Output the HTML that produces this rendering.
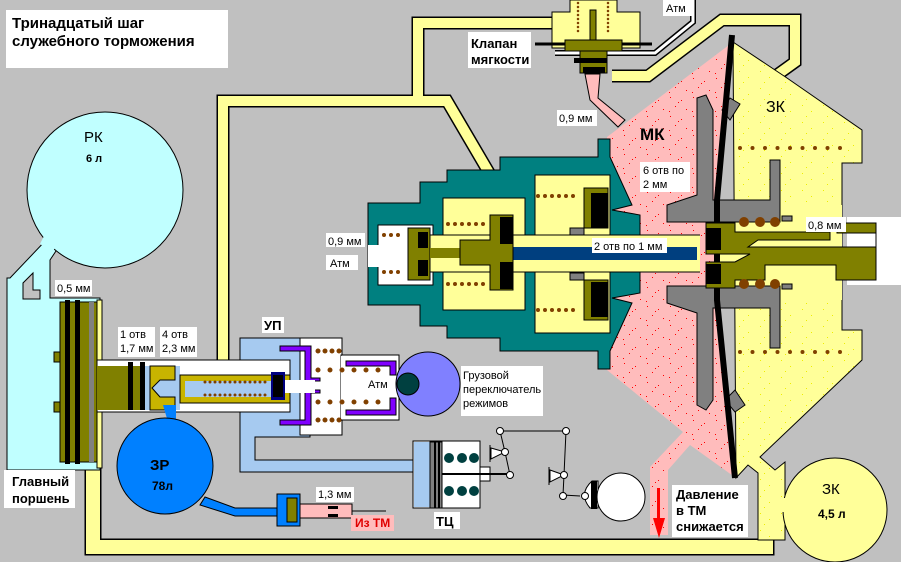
<!DOCTYPE html>
<html><head><meta charset="utf-8"><style>
html,body{margin:0;padding:0;background:#c0c0c0;}
svg{display:block}
text{font-family:"Liberation Sans","DejaVu Sans",sans-serif;}
</style></head><body>
<svg width="901" height="562" viewBox="0 0 901 562" xmlns="http://www.w3.org/2000/svg">
<defs>
<pattern id="spk" width="23" height="19" patternUnits="userSpaceOnUse">
<rect width="23" height="19" fill="#ffbcbc"/>
<rect x="3" y="2" width="1" height="1" fill="#f00"/><rect x="14" y="5" width="1" height="1" fill="#f00"/>
<rect x="8" y="11" width="1" height="1" fill="#f00"/><rect x="19" y="14" width="1" height="1" fill="#f00"/>
<rect x="2" y="16" width="1" height="1" fill="#f00"/><rect x="11" y="7" width="1" height="1" fill="#f00"/>
</pattern>
<pattern id="yspk" width="21" height="17" patternUnits="userSpaceOnUse">
<rect width="21" height="17" fill="#ffff99"/>
<rect x="4" y="3" width="1" height="1" fill="#ee0"/><rect x="13" y="9" width="1" height="1" fill="#ee0"/><rect x="8" y="14" width="1" height="1" fill="#ee0"/>
</pattern>
</defs>
<rect width="901" height="562" fill="#c0c0c0"/>

<!-- title -->
<rect x="6" y="10" width="222" height="58" fill="#fff"/>
<text x="12" y="28" font-size="15" font-weight="bold">Тринадцатый шаг</text>
<text x="12" y="46" font-size="15" font-weight="bold">служебного торможения</text>

<!-- pipes yellow -->
<g fill="none" stroke-linejoin="miter">
<path d="M560 23 L418 23 L418 101 L223 101 L223 360" stroke="#000" stroke-width="13"/>
<path d="M418 101 L447 101 L505 200" stroke="#000" stroke-width="13"/>
<path d="M612 76 L648 76 L722 20 L795 20 L795 62 L770 80" stroke="#000" stroke-width="13"/>
<path d="M93 462 L93 547 L766 547 L766 470" stroke="#000" stroke-width="17"/>
<path d="M560 23 L418 23 L418 101 L223 101 L223 360" stroke="#ffff99" stroke-width="10"/>
<path d="M418 101 L447 101 L505 200" stroke="#ffff99" stroke-width="10"/>
<path d="M612 76 L648 76 L722 20 L795 20 L795 62 L770 80" stroke="#ffff99" stroke-width="10"/>
<path d="M93 462 L93 547 L766 547 L766 470" stroke="#ffff99" stroke-width="14"/>
<path d="M555 53 L655 53 L693 22 L693 0" stroke="#000" stroke-width="6"/>
<path d="M555 53 L655 53 L693 22 L693 0" stroke="#fff" stroke-width="3"/>
</g>
<rect x="663" y="0" width="30" height="16" fill="#fff"/><text x="666" y="12" font-size="11">Атм</text>

<!-- RK -->
<path d="M48 238 L10 278 L7 278 L7 470 L100 470 L100 298 L50 298 L50 260 L58 248 Z" fill="#c0ffff" stroke="#000"/>
<circle cx="105" cy="190" r="78" fill="#c0ffff" stroke="#000"/>
<path d="M46 232 L58 244 L52 252 L40 244 Z" fill="#c0ffff"/>
<path d="M23 299 L23 283 L33 273 L33 290 L40 290 L40 299 Z" fill="#c0c0c0" stroke="#000"/>
<text x="84" y="142" font-size="15">РК</text>
<text x="86" y="162" font-size="11" font-weight="bold">6 л</text>
<rect x="55" y="280" width="37" height="16" fill="#fff"/><text x="57" y="292" font-size="11">0,5 мм</text>

<!-- main piston -->
<rect x="97" y="300" width="5" height="168" fill="#ffff99" stroke="#000"/>
<rect x="60" y="302" width="37" height="160" fill="#808000" stroke="#000"/>
<rect x="65" y="300" width="5" height="164" fill="#000"/><rect x="75" y="300" width="5" height="164" fill="#000"/>
<rect x="89" y="302" width="5" height="160" fill="#808080"/>
<rect x="54" y="352" width="6" height="10" fill="#808000" stroke="#000"/><rect x="54" y="402" width="6" height="10" fill="#808000" stroke="#000"/>
<rect x="4" y="470" width="71" height="38" fill="#fff"/>
<text x="12" y="486" font-size="13" font-weight="bold">Главный</text>
<text x="12" y="503" font-size="13" font-weight="bold">поршень</text>

<!-- rod / channel -->
<rect x="97" y="360" width="200" height="52" fill="#fff" stroke="#000"/>
<rect x="97" y="366" width="50" height="44" fill="#808000"/>
<rect x="128" y="362" width="5" height="48" fill="#000"/><rect x="140" y="362" width="5" height="48" fill="#000"/>
<rect x="145" y="366" width="35" height="44" fill="#a6caf0"/>
<path d="M150 366 L175 366 L175 380 L160 380 L152 388 L160 397 L175 397 L175 410 L150 410 Z" fill="#c8b400" stroke="#000"/>
<rect x="180" y="375" width="110" height="28" fill="#c8b400" stroke="#000"/>
<rect x="185" y="381" width="88" height="16" fill="#a6caf0"/>
<line x1="205" y1="382" x2="268" y2="382" stroke="#804000" stroke-width="3" stroke-dasharray="0 5" stroke-linecap="round"/>
<line x1="205" y1="395" x2="268" y2="395" stroke="#804000" stroke-width="3" stroke-dasharray="0 5" stroke-linecap="round"/>
<rect x="118" y="327" width="37" height="30" fill="#fff"/><text x="120" y="338" font-size="11">1 отв</text><text x="120" y="352" font-size="11">1,7 мм</text>
<rect x="160" y="327" width="37" height="30" fill="#fff"/><text x="162" y="338" font-size="11">4 отв</text><text x="162" y="352" font-size="11">2,3 мм</text>

<!-- ZR -->
<path d="M163 405 L176 405 L176 422 L168 422 Z" fill="#0080ff"/>
<path d="M205 497 L235 508 L280 508 L280 516 L235 516 L200 505 Z" fill="#0080ff" stroke="#000"/>
<circle cx="165" cy="466" r="48" fill="#0080ff" stroke="#000"/>
<text x="150" y="470" font-size="15" font-weight="bold">ЗР</text>
<text x="152" y="490" font-size="12" font-weight="bold">78л</text>
<rect x="277" y="494" width="23" height="32" fill="#0080ff" stroke="#000"/>
<rect x="287" y="498" width="10" height="24" fill="#808000" stroke="#000"/>
<rect x="300" y="504" width="52" height="14" fill="#ffbcbc" stroke="#000"/>
<rect x="328" y="506" width="10" height="3" fill="#000"/><rect x="328" y="514" width="10" height="3" fill="#000"/>
<line x1="352" y1="511" x2="386" y2="511" stroke="#000"/>
<rect x="316" y="487" width="38" height="15" fill="#fff"/><text x="318" y="498" font-size="11">1,3 мм</text>
<rect x="351" y="515" width="43" height="16" fill="#ffbcbc"/><text x="355" y="527" font-size="12" font-weight="bold" fill="#e00000">Из ТМ</text>

<!-- UP -->
<path d="M240 338 L310 338 L310 437 L255 437 L255 460 L413 460 L413 472 L240 472 L240 412 L290 412 L290 360 L240 360 Z" fill="#a6caf0" stroke="#000"/>
<rect x="300" y="338" width="42" height="97" fill="#fff" stroke="#000"/>
<rect x="341" y="355" width="58" height="65" fill="#fff" stroke="#000"/>
<rect x="341" y="356" width="8" height="63" fill="#fff"/>
<path d="M280 346 L311 346 L311 378 L320 378 L320 381 L305 381 L305 351 L280 351 Z" fill="#8000ff" stroke="#000"/>
<path d="M280 425 L311 425 L311 393 L320 393 L320 390 L305 390 L305 420 L280 420 Z" fill="#8000ff" stroke="#000"/>
<path d="M346 361 L396 361 L396 375 L390 375 L390 366 L346 366 Z" fill="#8000ff" stroke="#000"/>
<path d="M346 415 L396 415 L396 398 L390 398 L390 410 L346 410 Z" fill="#8000ff" stroke="#000"/>
<rect x="271" y="372" width="14" height="28" fill="#000080"/><rect x="273" y="375" width="10" height="22" fill="#000"/>
<rect x="285" y="380" width="30" height="13" fill="#fff"/>
<line x1="318" y1="351" x2="340" y2="351" stroke="#804000" stroke-width="5" stroke-dasharray="0 7" stroke-linecap="round"/>
<line x1="318" y1="370" x2="385" y2="370" stroke="#804000" stroke-width="5" stroke-dasharray="0 12" stroke-linecap="round"/>
<line x1="318" y1="402" x2="385" y2="402" stroke="#804000" stroke-width="5" stroke-dasharray="0 12" stroke-linecap="round"/>
<line x1="318" y1="420" x2="340" y2="420" stroke="#804000" stroke-width="5" stroke-dasharray="0 7" stroke-linecap="round"/>
<text x="368" y="388" font-size="11">Атм</text>
<rect x="262" y="317" width="22" height="16" fill="#fff"/><text x="264" y="330" font-size="13" font-weight="bold">УП</text>
<circle cx="428" cy="384" r="32" fill="#8080ff" stroke="#000"/>
<circle cx="408" cy="384" r="11" fill="#004040" stroke="#000"/>
<rect x="461" y="366" width="82" height="50" fill="#fff"/>
<text x="463" y="379" font-size="11">Грузовой</text><text x="463" y="393" font-size="11">переключатель</text><text x="463" y="407" font-size="11">режимов</text>

<!-- TC -->
<rect x="413" y="441" width="67" height="67" fill="#fff" stroke="#000"/>
<rect x="414" y="442" width="17" height="65" fill="#a6caf0"/>
<rect x="430" y="442" width="12" height="66" fill="#808080" stroke="#000"/>
<rect x="434" y="441" width="2" height="67" fill="#000"/><rect x="438" y="441" width="2" height="67" fill="#000"/>
<rect x="480" y="467" width="10" height="14" fill="#fff" stroke="#000"/>
<line x1="442" y1="474" x2="510" y2="474" stroke="#000" stroke-width="2"/>
<g fill="#004040"><circle cx="449" cy="458" r="5"/><circle cx="462" cy="458" r="5"/><circle cx="474" cy="458" r="5"/><circle cx="449" cy="491" r="5"/><circle cx="462" cy="491" r="5"/><circle cx="474" cy="491" r="5"/></g>
<rect x="434" y="512" width="26" height="17" fill="#fff"/><text x="436" y="526" font-size="13" font-weight="bold">ТЦ</text>
<!-- linkage -->
<g stroke="#000" fill="none">
<path d="M500 431 L566 431 L564 475 L563 495 L580 496"/>
<path d="M500 431 L505 452 L510 475"/>
<path d="M491 448 L505 452 L491 459 Z" fill="#fff"/>
<path d="M550 470 L564 475 L550 482 Z" fill="#fff"/>
<line x1="490" y1="445" x2="490" y2="462"/><line x1="549" y1="467" x2="549" y2="485"/>
</g>
<g fill="#fff" stroke="#000"><circle cx="500" cy="431" r="3.5"/><circle cx="566" cy="431" r="3.5"/><circle cx="505" cy="452" r="3.5"/><circle cx="510" cy="475" r="3.5"/><circle cx="564" cy="475" r="3.5"/><circle cx="563" cy="496" r="3.5"/></g>
<path d="M592 481 Q578 494 590 508 L598 508 L598 481 Z" fill="#fff" stroke="#000"/>
<rect x="591" y="481" width="6" height="28" fill="#000"/>
<circle cx="585" cy="496" r="3.5" fill="#fff" stroke="#000"/>
<circle cx="621" cy="497" r="24" fill="#fff" stroke="#000"/>

<!-- ZK -->
<path d="M733 42 L787 78 L862 130 L862 163 L842 163 L842 330 L862 330 L862 360 L760 457 L775 470 L785 462 L785 540 L758 540 L758 473 L748 465 L736 478 Z" fill="url(#yspk)" stroke="#000"/>
<rect x="697" y="205" width="145" height="95" fill="#ffff99"/>
<circle cx="835" cy="510" r="52" fill="#ffff99" stroke="#000"/>
<rect x="775" y="498" width="15" height="14" fill="#ffff99"/>
<text x="822" y="494" font-size="15">ЗК</text>
<text x="818" y="518" font-size="12" font-weight="bold">4,5 л</text>
<text x="766" y="112" font-size="16">ЗК</text>

<!-- MK pink -->
<path d="M607 137 L733 42 L717 200 L717 300 L736 478 L690 445 L668 470 L668 535 L650 535 L650 467 L683 432 L607 370 Z" fill="url(#spk)"/>
<text x="640" y="140" font-size="17" font-weight="bold">МК</text>
<rect x="640" y="162" width="50" height="30" fill="#fff"/>
<text x="643" y="174" font-size="11">6 отв по</text><text x="643" y="188" font-size="11">2 мм</text>
<rect x="672" y="485" width="76" height="52" fill="#fff"/>
<text x="676" y="499" font-size="13" font-weight="bold">Давление</text>
<text x="676" y="515" font-size="13" font-weight="bold">в ТМ</text>
<text x="676" y="531" font-size="13" font-weight="bold">снижается</text>
<path d="M657 488 L660 488 L660 518 L665 518 L659 538 L653 518 L657 518 Z" fill="#f00"/>

<!-- valve (klapan) -->
<path d="M570 0 L617 0 L617 12 L640 12 L640 48 L552 48 L552 12 L570 12 Z" fill="#ffff99" stroke="#000"/>
<line x1="578" y1="3" x2="578" y2="35" stroke="#804000" stroke-width="2.5" stroke-dasharray="0 4" stroke-linecap="round"/>
<line x1="608" y1="3" x2="608" y2="35" stroke="#804000" stroke-width="2.5" stroke-dasharray="0 4" stroke-linecap="round"/>
<rect x="590" y="10" width="6" height="32" fill="#808000" stroke="#000"/>
<line x1="535" y1="44" x2="652" y2="44" stroke="#000" stroke-width="3"/>
<rect x="565" y="40" width="57" height="11" fill="#808000" stroke="#000"/>
<rect x="580" y="51" width="27" height="22" fill="#808000" stroke="#000"/>
<rect x="574" y="58" width="33" height="5" fill="#000"/>
<rect x="583" y="67" width="22" height="6" fill="#000"/>
<path d="M585 74 L600 74 L598 98 L625 120 L618 127 L590 100 Z" fill="#ffbcbc" stroke="#000"/>
<rect x="468" y="32" width="63" height="36" fill="#fff"/>
<text x="471" y="48" font-size="13" font-weight="bold">Клапан</text>
<text x="471" y="64" font-size="13" font-weight="bold">мягкости</text>
<rect x="557" y="110" width="40" height="16" fill="#fff"/><text x="559" y="122" font-size="11">0,9 мм</text>

<!-- diaphragm gray -->
<path d="M697 98 L706 95 L713 110 L713 200 L770 200 L770 160 L780 160 L780 222 L667 222 L667 205 L697 195 Z" fill="#808080" stroke="#000"/>
<path d="M667 286 L780 286 L780 348 L770 348 L770 308 L713 308 L713 400 L706 410 L697 405 L697 313 L667 303 Z" fill="#808080" stroke="#000"/>
<path d="M722 110 L730 98 L740 104 L730 120 Z" fill="#808080" stroke="#000"/>
<path d="M725 400 L735 412 L745 405 L735 390 Z" fill="#808080" stroke="#000"/>
<polyline points="732,35 717,200 717,300 735,478" fill="none" stroke="#000" stroke-width="6"/>

<!-- teal housing -->
<path d="M368 203 L420 203 L420 182 L447 182 L447 170 L500 170 L500 157 L598 157 L598 139 L610 139 L610 157 L632 205 L612 210 L640 215 L640 235 L610 235 L610 272 L640 272 L640 293 L612 298 L632 303 L610 351 L610 369 L598 369 L598 351 L500 351 L500 338 L447 338 L447 326 L420 326 L420 305 L368 305 Z" fill="#008080" stroke="#000"/>
<rect x="378" y="225" width="55" height="60" fill="#fff" stroke="#000"/>
<rect x="368" y="245" width="12" height="22" fill="#fff"/>
<rect x="443" y="198" width="82" height="112" fill="#ffff99" stroke="#000"/>
<rect x="535" y="175" width="75" height="158" fill="#ffff99" stroke="#000"/>
<rect x="430" y="235" width="270" height="37" fill="#ffff99"/>
<rect x="513" y="247" width="184" height="13" fill="#003f7f"/>
<line x1="430" y1="235" x2="700" y2="235" stroke="#000"/><line x1="430" y1="272" x2="700" y2="272" stroke="#000"/>
<rect x="408" y="228" width="22" height="52" fill="#808000" stroke="#000"/>
<rect x="418" y="232" width="10" height="16" fill="#000"/><rect x="418" y="260" width="10" height="16" fill="#000"/>
<rect x="430" y="248" width="30" height="10" fill="#808000"/>
<path d="M460 240 L490 240 L490 215 L513 215 L513 290 L490 290 L490 265 L460 265 Z" fill="#808000" stroke="#000"/>
<rect x="500" y="217" width="13" height="27" fill="#000"/><rect x="500" y="262" width="13" height="27" fill="#000"/>
<rect x="584" y="188" width="24" height="40" fill="#808000" stroke="#000"/><rect x="591" y="193" width="17" height="35" fill="#000"/>
<rect x="584" y="280" width="24" height="40" fill="#808000" stroke="#000"/><rect x="591" y="282" width="17" height="35" fill="#000"/>
<rect x="570" y="228" width="14" height="7" fill="#808080" stroke="#000"/><rect x="570" y="273" width="14" height="7" fill="#808080" stroke="#000"/>
<g stroke="#804000" stroke-width="4" stroke-dasharray="0 7" stroke-linecap="round">
<line x1="384" y1="235" x2="405" y2="235"/><line x1="384" y1="272" x2="405" y2="272"/>
<line x1="448" y1="224" x2="485" y2="224"/><line x1="448" y1="284" x2="485" y2="284"/>
<line x1="538" y1="196" x2="580" y2="196"/><line x1="538" y1="310" x2="580" y2="310"/>
</g>
<rect x="326" y="233" width="39" height="14" fill="#fff"/><text x="328" y="245" font-size="11">0,9 мм</text>
<rect x="326" y="255" width="32" height="15" fill="#fff"/><text x="330" y="267" font-size="11">Атм</text>

<!-- right piston -->
<rect x="847" y="217" width="54" height="68" fill="#fff"/>
<path d="M706 223 L735 223 L735 232 L830 232 L830 240 L758 240 L748 247 L876 247 L876 233 L837 233 L837 223 L876 223 L876 280 L836 280 L836 265 L765 265 L765 280 L735 280 L735 288 L706 288 L706 262 L735 262 L750 254 L735 254 L706 254 Z" fill="#808000" stroke="#000"/>
<rect x="706" y="228" width="15" height="22" fill="#000"/><rect x="706" y="264" width="15" height="20" fill="#000"/>
<g fill="#804000"><circle cx="744" cy="222" r="5"/><circle cx="760" cy="222" r="5"/><circle cx="775" cy="222" r="5"/><circle cx="744" cy="284" r="5"/><circle cx="760" cy="284" r="5"/><circle cx="775" cy="284" r="5"/></g>
<rect x="782" y="216" width="10" height="5" fill="#808080" stroke="#000"/><rect x="782" y="284" width="10" height="5" fill="#808080" stroke="#000"/>
<rect x="592" y="238" width="75" height="15" fill="#fff"/><text x="594" y="250" font-size="11">2 отв по 1 мм</text>
<rect x="806" y="217" width="40" height="15" fill="#fff"/><text x="808" y="229" font-size="11">0,8 мм</text>
<g stroke="#804000" stroke-width="4" stroke-dasharray="0 12.5" stroke-linecap="round">
<line x1="740" y1="148" x2="842" y2="148"/><line x1="740" y1="352" x2="842" y2="352"/>
</g>
</svg>
</body></html>
